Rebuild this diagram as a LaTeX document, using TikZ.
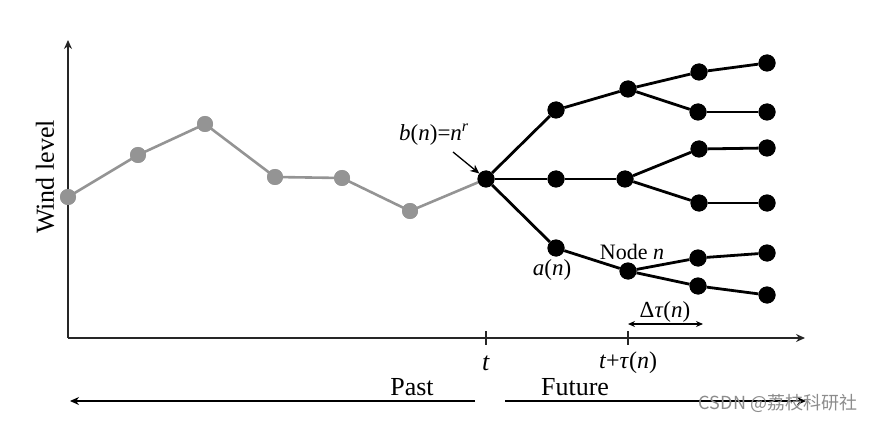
\documentclass[tikz,border=0pt]{standalone}
\usepackage{fontspec}
\setmainfont{Liberation Serif}
\newfontfamily\cjk{Noto Sans CJK SC}
\usetikzlibrary{arrows.meta}
\begin{document}
\begin{tikzpicture}[x=1pt,y=-1pt,
  gdot/.style={circle,fill=black!42,minimum size=16pt,inner sep=0pt},
  bdot/.style={circle,fill=black,minimum size=17pt,inner sep=0pt},
  gline/.style={black!42,line width=2.6pt},
  bline/.style={black,line width=2.8pt},
  axis/.style={black!85,line width=1.4pt},
  lbl/.style={font=\fontsize{23}{26}\selectfont,inner sep=0pt},
  big/.style={font=\fontsize{26}{30}\selectfont,inner sep=0pt},
  tip/.style={-{Stealth[length=9pt,width=8pt]}}
]
\useasboundingbox (0,0) rectangle (880,422);
% axes
\coordinate (O) at (68,338);
\coordinate (Ytop) at (68,40);
\coordinate (Xend) at (805,338);
\draw[axis,tip] (O) -- (Ytop);
\draw[axis,tip] (O) -- (Xend);
\coordinate (t1) at (486,331); \coordinate (t2) at (486,345);
\coordinate (u1) at (628,331); \coordinate (u2) at (628,345);
\draw[axis] (t1) -- (t2);
\draw[axis] (u1) -- (u2);
\node[big] (tl) at (486,363) {\textit{t}};
\node[lbl,font=\fontsize{24}{28}\selectfont] (tul) at (628,363) {\textit{t}+\textit{τ}(\textit{n})};
\node[big,rotate=90] (wl) at (45,177) {Wind level};
% gray past
\node[gdot] (g1) at (68,197) {};
\node[gdot] (g2) at (138,155) {};
\node[gdot] (g3) at (205,124) {};
\node[gdot] (g4) at (275,177) {};
\node[gdot] (g5) at (342,178) {};
\node[gdot] (g6) at (410,211) {};
% black tree
\node[bdot] (R) at (486,179) {};
\node[bdot] (A1) at (556,110) {};
\node[bdot] (A2) at (556,179) {};
\node[bdot] (A3) at (556,248) {};
\node[bdot] (B1) at (628,89) {};
\node[bdot] (B2) at (625,179) {};
\node[bdot] (B3) at (628,271) {};
\node[bdot] (C1) at (699,72) {};
\node[bdot] (C2) at (698,112) {};
\node[bdot] (C3) at (699,149) {};
\node[bdot] (C4) at (699,203) {};
\node[bdot] (C5) at (698,258) {};
\node[bdot] (C6) at (698,286) {};
\node[bdot] (D1) at (767,63) {};
\node[bdot] (D2) at (767,112) {};
\node[bdot] (D3) at (767,148) {};
\node[bdot] (D4) at (767,203) {};
\node[bdot] (D5) at (767,253) {};
\node[bdot] (D6) at (767,295) {};
\begin{scope}[on background layer/.style={}]
\draw[gline] (g1.center) -- (g2.center) -- (g3.center) -- (g4.center) -- (g5.center) -- (g6.center) -- (R.center);
\end{scope}
\draw[bline] (R) -- (A1); \draw[bline] (R) -- (A2); \draw[bline] (R) -- (A3);
\draw[bline] (A1) -- (B1); \draw[bline] (A2) -- (B2); \draw[bline] (A3) -- (B3);
\draw[bline] (B1) -- (C1); \draw[bline] (B1) -- (C2);
\draw[bline] (B2) -- (C3); \draw[bline] (B2) -- (C4);
\draw[bline] (B3) -- (C5); \draw[bline] (B3) -- (C6);
\draw[bline] (C1) -- (D1); \draw[bline] (C2) -- (D2); \draw[bline] (C3) -- (D3);
\draw[bline] (C4) -- (D4); \draw[bline] (C5) -- (D5); \draw[bline] (C6) -- (D6);
% redraw dots on top
\foreach \n in {g1,g2,g3,g4,g5,g6} \fill[black!42] (\n) circle (8pt);
\foreach \n in {R,A1,A2,A3,B1,B2,B3,C1,C2,C3,C4,C5,C6,D1,D2,D3,D4,D5,D6} \fill[black] (\n) circle (8.5pt);
% labels
\node[lbl] (bl) at (434,135) {\textit{b}(\textit{n})=\textit{n}\textsuperscript{\textit{r}}};
\coordinate (bs) at (453,152);
\draw[black,line width=1.3pt,tip] (bs) -- (R);
\node[lbl] (al) at (552,270) {\textit{a}(\textit{n})};
\node[lbl,font=\fontsize{22}{26}\selectfont] (nl) at (632,252) {Node \textit{n}};
\coordinate (d1) at (628,324); \coordinate (d2) at (703,324);
\draw[black,line width=1.2pt,{Stealth[length=7pt,width=6pt]}-{Stealth[length=7pt,width=6pt]}] (d1) -- (d2);
\node[lbl] (dl) at (665,312) {Δ\textit{τ}(\textit{n})};
% past/future
\coordinate (p1) at (475,401); \coordinate (p2) at (70,401);
\coordinate (f1) at (505,401); \coordinate (f2) at (806,401);
\draw[black,line width=1.3pt,tip] (p1) -- (p2);
\draw[black,line width=1.3pt,tip] (f1) -- (f2);
\node[big] (pl) at (412,387) {Past};
\node[big] (fl) at (575,387) {Future};
\node[inner sep=0pt,text=black!45,font=\cjk\fontsize{18}{20}\selectfont] (wm) at (778,403) {CSDN @荔枝科研社};
\end{tikzpicture}
\end{document}
